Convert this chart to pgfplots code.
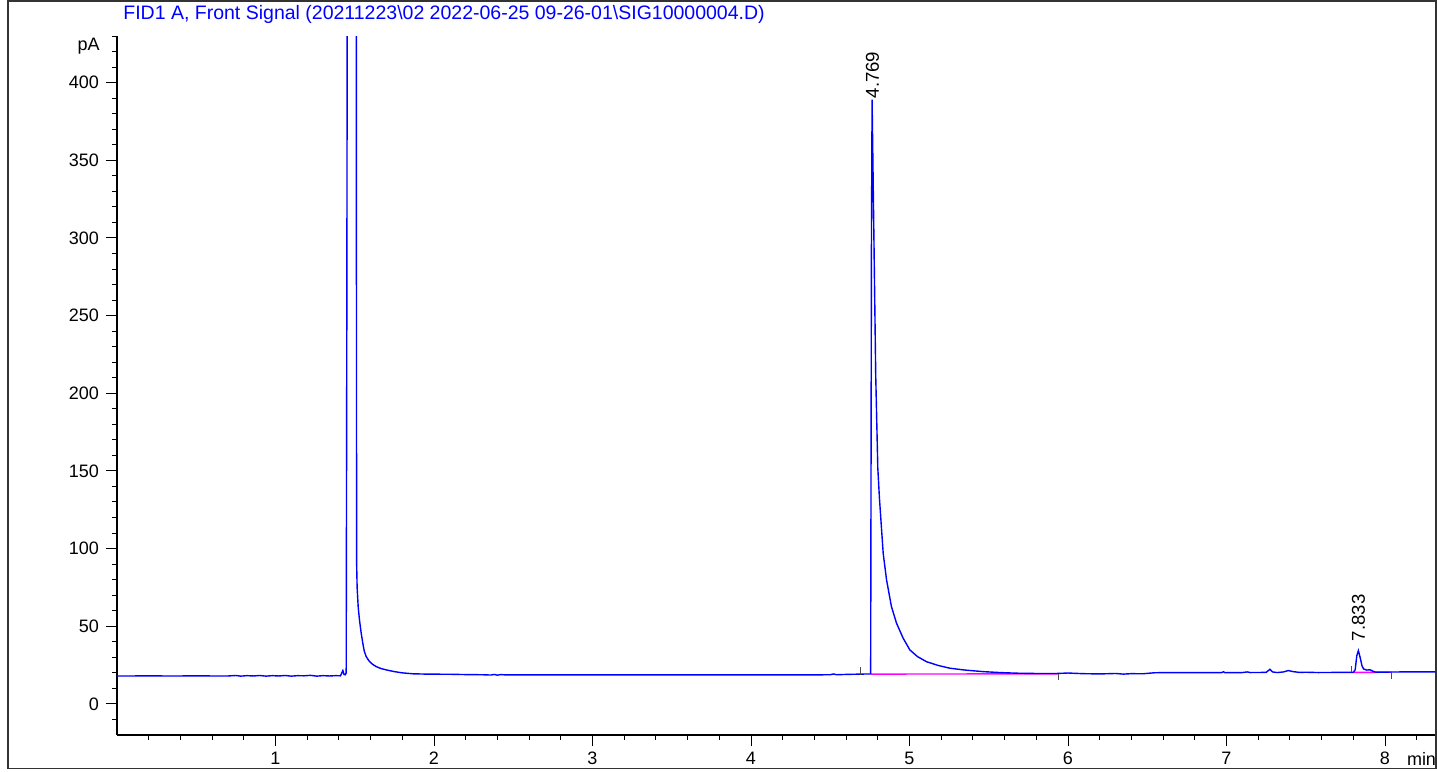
\documentclass[border=0pt]{standalone}
\usepackage{fontspec}
\setmainfont{Liberation Sans}
\usepackage{pgfplots}
\pgfplotsset{compat=1.18}

\definecolor{sigblue}{RGB}{0,0,255}
\definecolor{basemag}{RGB}{255,0,255}

\begin{document}
\begin{tikzpicture}
\useasboundingbox (-58.5pt,-18.5pt) rectangle (660pt,367.5pt);

\begin{axis}[
    at={(0,0)}, anchor=south west,
    scale only axis, width=659pt, height=349.5pt,
    xmin=0, xmax=8.3155,
    ymin=-20, ymax=430,
    axis lines=left,
    axis line style={-, line width=0.6pt},
    tick align=outside,
    xtick={1,2,3,4,5,6,7,8},
    ytick={0,50,100,150,200,250,300,350,400},
    minor xtick={0.2,0.4,0.6,0.8,1.2,1.4,1.6,1.8,2.2,2.4,2.6,2.8,3.2,3.4,3.6,3.8,
                 4.2,4.4,4.6,4.8,5.2,5.4,5.6,5.8,6.2,6.4,6.6,6.8,7.2,7.4,7.6,7.8,8.2},
    minor ytick={-10,10,20,30,40,60,70,80,90,110,120,130,140,160,170,180,190,
                 210,220,230,240,260,270,280,290,310,320,330,340,360,370,380,390,
                 410,420,430},
    major tick length=5.7pt, minor tick length=2.3pt,
    tick style={black, line width=0.5pt},
    tick label style={font=\fontsize{9}{11}\selectfont},
    /pgf/number format/assume math mode=true,
    yticklabel style={inner sep=0pt, xshift=-3.2pt},
    xticklabel style={inner sep=0pt, yshift=-2.8pt},
]

% integration baselines
\addplot[basemag, line width=0.7pt] coordinates {(4.755,19.2)(5.94,19.4)};
\addplot[basemag, line width=0.7pt] coordinates {(7.80,20.3)(8.04,20.4)};

% FID signal
\addplot[sigblue, line width=0.7pt] coordinates {
(0.00,18.0)(0.10,18.0)(0.20,18.1)(0.30,18.0)(0.40,18.0)(0.50,18.1)(0.60,18.0)
(0.70,18.0)(0.75,18.3)(0.78,17.9)(0.82,18.2)(0.86,18.0)(0.90,18.3)(0.94,17.9)
(0.98,18.2)(1.02,18.0)(1.06,18.3)(1.10,17.9)(1.14,18.2)(1.18,18.1)(1.22,18.4)
(1.26,17.9)(1.30,18.2)(1.34,18.0)(1.38,18.2)(1.41,18.1)(1.425,21.5)(1.432,19.0)
(1.440,18.8)(1.446,20)(1.450,250)(1.455,650)(1.470,1400)(1.490,1500)(1.505,900)
(1.510,450)(1.511,200)(1.512,90)(1.515,75)(1.522,62)(1.530,54)(1.540,46)
(1.551,39)(1.560,34)(1.572,30.5)(1.588,28)(1.604,26.2)(1.620,25)(1.636,24)
(1.665,22.8)(1.699,21.9)(1.75,20.8)(1.80,20.0)(1.867,19.4)(1.95,19.2)(2.10,19.1)
(2.20,18.9)(2.30,18.8)(2.36,18.6)(2.38,19.0)(2.40,18.5)(2.42,18.9)(2.45,18.7)
(2.80,18.7)(3.20,18.7)(3.60,18.7)(4.00,18.7)(4.40,18.7)(4.50,18.8)(4.52,19.3)
(4.54,18.8)(4.60,19.0)(4.69,19.2)(4.75,19.3)(4.755,19.5)(4.760,300)(4.764,389)
(4.787,211)(4.800,152)(4.810,133)(4.820,118)(4.834,97)(4.855,80)(4.886,62.7)
(4.918,52)(4.960,42.3)(5.002,34.8)(5.05,30.5)(5.107,27.2)(5.18,24.8)(5.254,23.0)
(5.35,21.8)(5.464,20.8)(5.57,20.2)(5.675,19.8)(5.80,19.6)(5.928,19.6)(6.00,19.9)
(6.09,19.5)(6.20,19.3)(6.30,19.6)(6.35,19.2)(6.40,19.5)(6.47,19.4)(6.55,20.1)
(6.80,20.2)(6.97,20.2)(6.98,20.7)(6.99,20.2)(7.10,20.2)(7.13,20.6)(7.15,20.2)
(7.25,20.3)(7.274,22.3)(7.29,20.6)(7.32,20.2)(7.36,20.6)(7.39,21.5)(7.42,20.8)
(7.46,20.3)(7.50,20.4)(7.58,20.2)(7.70,20.3)(7.80,20.3)(7.812,22)(7.822,31)
(7.832,34.3)(7.843,30)(7.855,24.5)(7.865,22.5)(7.885,21.8)(7.905,22)(7.925,21)
(7.94,20.5)(8.00,20.5)(8.10,20.6)(8.3155,20.6)
};

% integration event marks
\addplot[black!70, line width=0.5pt] coordinates {(4.692,18.8)(4.692,23.5)};
\addplot[black!70, line width=0.5pt] coordinates {(5.94,19.4)(5.94,15.3)};
\addplot[black!70, line width=0.5pt] coordinates {(7.79,20.3)(7.79,24.6)};
\addplot[black!70, line width=0.5pt] coordinates {(8.04,20.4)(8.04,16.1)};

% retention time labels
\node[rotate=90, anchor=west, inner sep=0.5pt, font=\fontsize{9.3}{11}\selectfont]
    at (axis cs:4.766,389) {4.769};
\node[rotate=90, anchor=west, inner sep=0.5pt, font=\fontsize{9.3}{11}\selectfont]
    at (axis cs:7.832,39.5) {7.833};
\end{axis}

\node[anchor=base west, inner sep=0pt, text=sigblue, font=\fontsize{9.75}{11}\selectfont]
    at (3pt,357.75pt) {FID1 A, Front Signal (20211223\textbackslash 02 2022-06-25 09-26-01\textbackslash SIG10000004.D)};
\node[anchor=base east, inner sep=0pt, font=\fontsize{9}{11}\selectfont]
    at (-8.5pt,342.15pt) {pA};
\node[anchor=west, inner sep=0pt, font=\fontsize{9}{11}\selectfont]
    at (644.8pt,-11.75pt) {min};
\draw[line width=0.8pt, black!80] (-54.5pt,-16.75pt) rectangle (659.6pt,367pt);
\end{tikzpicture}
\end{document}
